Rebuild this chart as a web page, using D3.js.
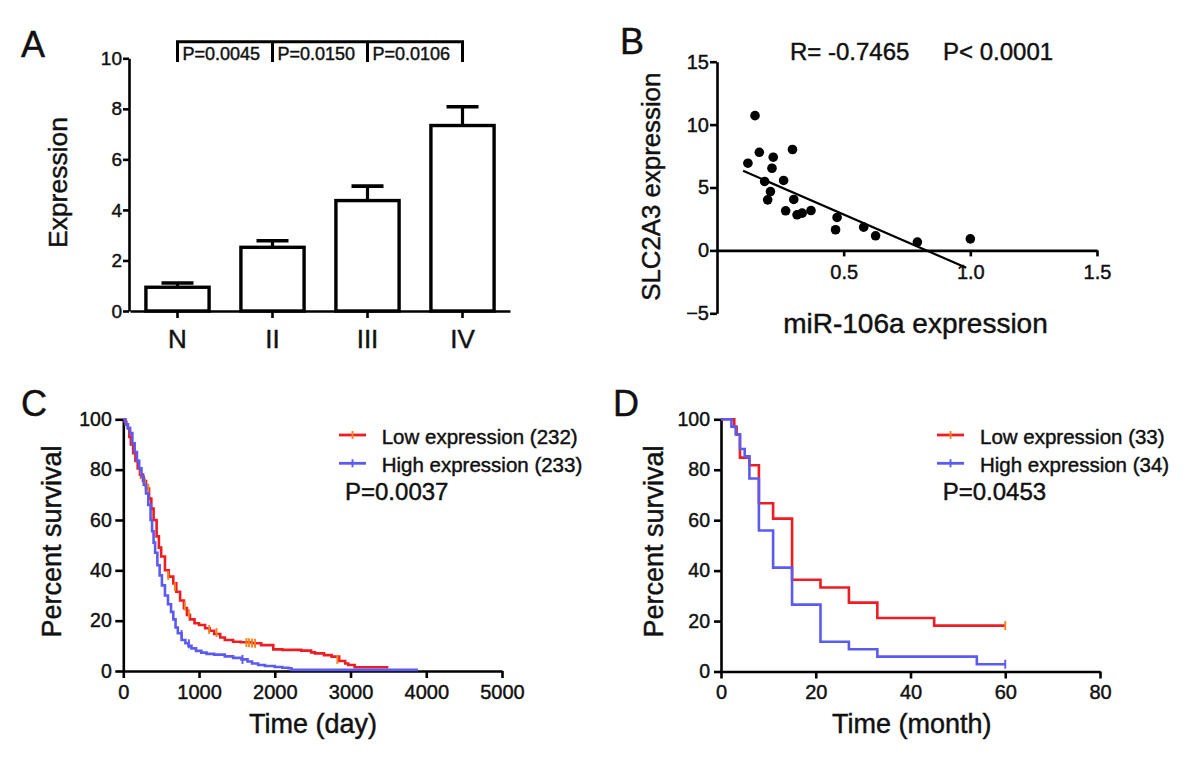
<!DOCTYPE html>
<html><head><meta charset="utf-8">
<script src="https://cdn.jsdelivr.net/npm/d3@7"></script>
<style>
body{margin:0;background:#fff}
svg text{font-family:"Liberation Sans",Arial,sans-serif;fill:#111;stroke:#111;stroke-width:0.45px}
</style>
</head><body>
<svg id="chart" width="1200" height="761"></svg>
<script>
// ---------- Panel A data ----------
const stageCategories = ["N", "II", "III", "IV"];
const stageMeans = [0.94, 2.52, 4.37, 7.34];
const stageErrors = [0.17, 0.26, 0.57, 0.74];
const stageTicks = [0, 2, 4, 6, 8, 10];
const stagePValues = ["P=0.0045", "P=0.0150", "P=0.0106"];

// ---------- Panel B data ----------
const mirX = [0.122, 0.150, 0.167, 0.222, 0.217, 0.188, 0.211, 0.200, 0.263, 0.298, 0.303, 0.271, 0.316, 0.336, 0.371, 0.474, 0.468, 0.579, 0.626, 0.791, 1.000];
const slcY = [6.93, 10.71, 7.80, 7.41, 6.53, 5.48, 4.68, 4.02, 5.56, 8.02, 4.05, 3.15, 2.83, 2.96, 3.17, 2.62, 1.64, 1.85, 1.16, 0.66, 0.92];
const fitX = [0.103, 0.984];
const fitY = [6.33, -1.38];
const scatterXTicks = [0.5, 1.0, 1.5];
const scatterYTicks = [-5, 0, 5, 10, 15];

// ---------- Panel C data (days, % survival) ----------
const lowDays = [0, 20, 40, 60, 80, 100, 130, 160, 190, 220, 260, 300, 340, 370, 400, 440, 470, 500, 550, 600, 660, 700, 750, 800, 840, 880, 940, 1000, 1080, 1140, 1200, 1280, 1340, 1450, 1550, 1700, 1820, 1980, 2100, 2350, 2480, 2530, 2650, 2750, 2850, 2930, 2970, 3055, 3500];
const lowSurvC = [100, 99, 98, 96.5, 93, 90, 86.5, 83.5, 80.5, 78, 75.5, 72.5, 68.5, 64.5, 60, 53.5, 49, 45.5, 40, 37.5, 34.8, 31.5, 28, 25, 22.3, 20.5, 19, 18.3, 17, 16, 14.7, 13.3, 12.3, 11.6, 11.4, 11, 10.3, 8.6, 8.4, 8.1, 7.4, 7, 6.3, 5.7, 4, 3, 2.4, 1.5, 1.5];
const highDays = [0, 30, 60, 90, 120, 150, 180, 210, 240, 270, 300, 330, 360, 380, 400, 420, 450, 480, 510, 550, 590, 630, 660, 690, 720, 770, 820, 860, 900, 960, 1030, 1100, 1200, 1340, 1450, 1560, 1640, 1700, 1780, 1870, 2000, 2100, 2180, 2220, 3890];
const highSurvC = [100, 98, 96.5, 94.5, 90.5, 87, 83.5, 80.5, 77.3, 74, 70.5, 66, 60, 55.5, 51, 47, 42, 38, 34, 30, 26.5, 23.5, 20.5, 17.3, 15, 12.3, 11, 10, 9, 8, 7.3, 6.8, 6.5, 5.8, 5.2, 4.6, 3.8, 3, 2.4, 2, 1.6, 1.3, 1.1, 0.45, 0.45];
const lowCensorDays = [230, 286, 330, 593, 681, 813, 866, 1134, 1231, 1626, 1660, 1700, 1740, 2826];
const lowCensorSurv = [78, 75, 72.6, 38, 33.5, 25.8, 22.8, 16.5, 15.3, 11.3, 11.2, 11.1, 11.0, 4.6];
const highCensorDays = [769, 866, 1574];
const highCensorSurv = [14.5, 10.8, 4.6];
const dayTicks = [0, 1000, 2000, 3000, 4000, 5000];
const survTicks = [0, 20, 40, 60, 80, 100];
const legendC = ["Low expression (232)", "High expression (233)"];
const pValueC = "P=0.0037";

// ---------- Panel D data (months, % survival) ----------
const lowMonths = [0, 2.8, 3.3, 4, 6, 8, 11, 15, 21, 27, 33, 45, 60];
const lowSurvD = [100, 97.0, 93.9, 84.8, 81.8, 66.7, 60.6, 36.4, 33.3, 27.3, 21.2, 18.2, 18.2];
const highMonths = [0, 2.2, 3.1, 4, 5, 6, 8, 11, 15, 21, 27, 33, 54, 60];
const highSurvD = [100, 97.1, 94.1, 88.2, 85.3, 76.5, 55.9, 41.2, 26.5, 11.8, 8.8, 5.9, 2.9, 2.9];
const lowCensorMonths = [60];
const lowCensorSurvD = [18.2];
const highCensorMonths = [60];
const highCensorSurvD = [2.9];
const monthTicks = [0, 20, 40, 60, 80];
const legendD = ["Low expression (33)", "High expression (34)"];
const pValueD = "P=0.0453";

// ---------- drawing ----------
const RED = "#ee1d23", BLUE = "#5b5bf0", ORANGE = "#f5841f";
const svg = d3.select("#chart");
svg.append("rect").attr("width", 1200).attr("height", 761).attr("fill", "#fff");

function styleAxis(g, fs) {
  g.attr("font-size", fs).attr("font-family", null);
  g.selectAll("path.domain").attr("stroke", "#000").attr("stroke-width", 2.6);
  g.selectAll(".tick line").attr("stroke", "#000").attr("stroke-width", 2.6);
  g.selectAll(".tick text").attr("fill", "#111");
}
function panelLabel(t, x, y) {
  svg.append("text").attr("x", x).attr("y", y).attr("font-size", 36).text(t);
}
function yLabel(t, x, y, fs) {
  svg.append("text").attr("transform", `translate(${x},${y}) rotate(-90)`)
    .attr("text-anchor", "middle").attr("font-size", fs).text(t);
}
function xLabel(t, x, y, fs) {
  svg.append("text").attr("x", x).attr("y", y).attr("text-anchor", "middle").attr("font-size", fs).text(t);
}

// ===== Panel A =====
const xA = d3.scaleBand().domain(stageCategories).range([130, 510]).paddingInner(0.335).paddingOuter(0.1675);
const yA = d3.scaleLinear().domain([0, 10]).range([311, 58.3]);
const gA = svg.append("g");
gA.selectAll("rect.bar").data(stageCategories).join("rect")
  .attr("x", d => xA(d)).attr("width", xA.bandwidth())
  .attr("y", (d, i) => yA(stageMeans[i])).attr("height", (d, i) => yA(0) - yA(stageMeans[i]))
  .attr("fill", "#fff").attr("stroke", "#000").attr("stroke-width", 3.4);
stageCategories.forEach((c, i) => {
  const cx = xA(c) + xA.bandwidth() / 2;
  gA.append("line").attr("x1", cx).attr("x2", cx)
    .attr("y1", yA(stageMeans[i])).attr("y2", yA(stageMeans[i] + stageErrors[i]))
    .attr("stroke", "#000").attr("stroke-width", 3.2);
  gA.append("line").attr("x1", cx - 16).attr("x2", cx + 16)
    .attr("y1", yA(stageMeans[i] + stageErrors[i])).attr("y2", yA(stageMeans[i] + stageErrors[i]))
    .attr("stroke", "#000").attr("stroke-width", 3.6);
});
const axA_y = svg.append("g").attr("transform", "translate(129,0)")
  .call(d3.axisLeft(yA).tickValues(stageTicks).tickSize(6).tickPadding(1).tickSizeOuter(0));
styleAxis(axA_y, 19);
const axA_x = svg.append("g").attr("transform", `translate(0,${yA(0)})`)
  .call(d3.axisBottom(xA).tickSize(7).tickPadding(11.5).tickSizeOuter(0));
styleAxis(axA_x, 26);
// significance bracket
const centers = stageCategories.map(c => xA(c) + xA.bandwidth() / 2);
const brTop = 41.7, brBot = 62;
gA.append("path")
  .attr("d", `M${centers[0]},${brBot}V${brTop}H${centers[3]}V${brBot}`)
  .attr("fill", "none").attr("stroke", "#000").attr("stroke-width", 3);
[1, 2].forEach(i => gA.append("line").attr("x1", centers[i]).attr("x2", centers[i])
  .attr("y1", brTop).attr("y2", brBot).attr("stroke", "#000").attr("stroke-width", 3));
stagePValues.forEach((p, i) => gA.append("text").attr("x", centers[i] + 5).attr("y", 60)
  .attr("font-size", 18).text(p));
yLabel("Expression", 67, 182.5, 26.5);
panelLabel("A", 21, 57);

// ===== Panel B =====
const xB = d3.scaleLinear().domain([0, 1.5]).range([717, 1097]);
const yB = d3.scaleLinear().domain([-5, 15]).range([313.3, 61.7]);
const axB_y = svg.append("g").attr("transform", "translate(717,0)")
  .call(d3.axisLeft(yB).tickValues(scatterYTicks).tickSize(7).tickPadding(1).tickSizeOuter(0));
styleAxis(axB_y, 20);
const axB_x = svg.append("g").attr("transform", `translate(0,${yB(0)})`)
  .call(d3.axisBottom(xB).tickValues(scatterXTicks).tickFormat(d3.format(".1f")).tickSize(6).tickPadding(8.5).tickSizeOuter(0));
styleAxis(axB_x, 20);
svg.append("line").attr("x1", xB(fitX[0])).attr("y1", yB(fitY[0]))
  .attr("x2", xB(fitX[1])).attr("y2", yB(fitY[1])).attr("stroke", "#000").attr("stroke-width", 2.2);
svg.append("g").selectAll("circle").data(mirX).join("circle")
  .attr("cx", d => xB(d)).attr("cy", (d, i) => yB(slcY[i])).attr("r", 4.8).attr("fill", "#000");
svg.append("text").attr("x", 790).attr("y", 60).attr("font-size", 24).text("R= -0.7465");
svg.append("text").attr("x", 943).attr("y", 60).attr("font-size", 24).text("P< 0.0001");
yLabel("SLC2A3 expression", 660, 186.7, 25.8);
xLabel("miR-106a expression", 915.5, 333, 28);
panelLabel("B", 620, 54);

// ===== survival panel helper =====
function survivalPanel(opt) {
  const x = d3.scaleLinear().domain(opt.xDomain).range(opt.xRange);
  const y = d3.scaleLinear().domain([0, 100]).range(opt.yRange);
  const ay = svg.append("g").attr("transform", `translate(${opt.xRange[0]},0)`)
    .call(d3.axisLeft(y).tickValues(survTicks).tickSize(opt.yTick).tickPadding(opt.yPad).tickSizeOuter(0));
  styleAxis(ay, 19.5);
  const ax = svg.append("g").attr("transform", `translate(0,${opt.yRange[0]})`)
    .call(d3.axisBottom(x).tickValues(opt.xTicks).tickFormat(d3.format("d")).tickSize(7).tickPadding(6.5).tickSizeOuter(0));
  styleAxis(ax, 20);
  const line = d3.line().curve(d3.curveStepAfter);
  opt.series.forEach(s => {
    svg.append("path").attr("d", line(s.t.map((t, i) => [x(t), y(s.s[i])])))
      .attr("fill", "none").attr("stroke", s.color).attr("stroke-width", 2.6);
    s.ct.forEach((t, i) => svg.append("line").attr("x1", x(t)).attr("x2", x(t))
      .attr("y1", y(s.cs[i]) - 4.5).attr("y2", y(s.cs[i]) + 4.5)
      .attr("stroke", s.tickColor).attr("stroke-width", 1.9));
  });
  // legend
  opt.series.forEach((s, i) => {
    const ly = opt.legY[i];
    svg.append("line").attr("x1", opt.legX).attr("x2", opt.legX + 27).attr("y1", ly).attr("y2", ly)
      .attr("stroke", s.color).attr("stroke-width", 2.8);
    svg.append("line").attr("x1", opt.legX + 13.5).attr("x2", opt.legX + 13.5).attr("y1", ly - 4).attr("y2", ly + 4)
      .attr("stroke", s.tickColor).attr("stroke-width", 1.9);
    svg.append("text").attr("x", opt.legTextX).attr("y", ly + 8.5).attr("font-size", 20.5).text(s.label);
  });
  svg.append("text").attr("x", opt.pX).attr("y", 500).attr("font-size", 24).text(opt.p);
}

// ===== Panel C =====
survivalPanel({
  xDomain: [0, 5000], xRange: [123.3, 502], yRange: [671, 419.3], xTicks: dayTicks,
  yTick: 8, yPad: 3.5,
  series: [
    {t: lowDays, s: lowSurvC, ct: lowCensorDays, cs: lowCensorSurv, color: RED, tickColor: ORANGE, label: legendC[0]},
    {t: highDays, s: highSurvC, ct: highCensorDays, cs: highCensorSurv, color: BLUE, tickColor: BLUE, label: legendC[1]}
  ],
  legX: 339, legTextX: 381.7, legY: [435, 463.3], pX: 345, p: pValueC
});
yLabel("Percent survival", 61, 541.5, 27);
xLabel("Time (day)", 313, 733, 27);
panelLabel("C", 21, 416);

// ===== Panel D =====
survivalPanel({
  xDomain: [0, 80], xRange: [721, 1100], yRange: [671.5, 419.3], xTicks: monthTicks,
  yTick: 7, yPad: 4,
  series: [
    {t: lowMonths, s: lowSurvD, ct: lowCensorMonths, cs: lowCensorSurvD, color: RED, tickColor: ORANGE, label: legendD[0]},
    {t: highMonths, s: highSurvD, ct: highCensorMonths, cs: highCensorSurvD, color: BLUE, tickColor: BLUE, label: legendD[1]}
  ],
  legX: 937, legTextX: 980, legY: [435, 463.3], pX: 942.7, p: pValueD
});
yLabel("Percent survival", 663, 541.5, 27);
xLabel("Time (month)", 911.7, 733, 27);
panelLabel("D", 613, 416);
</script>
</body></html>
